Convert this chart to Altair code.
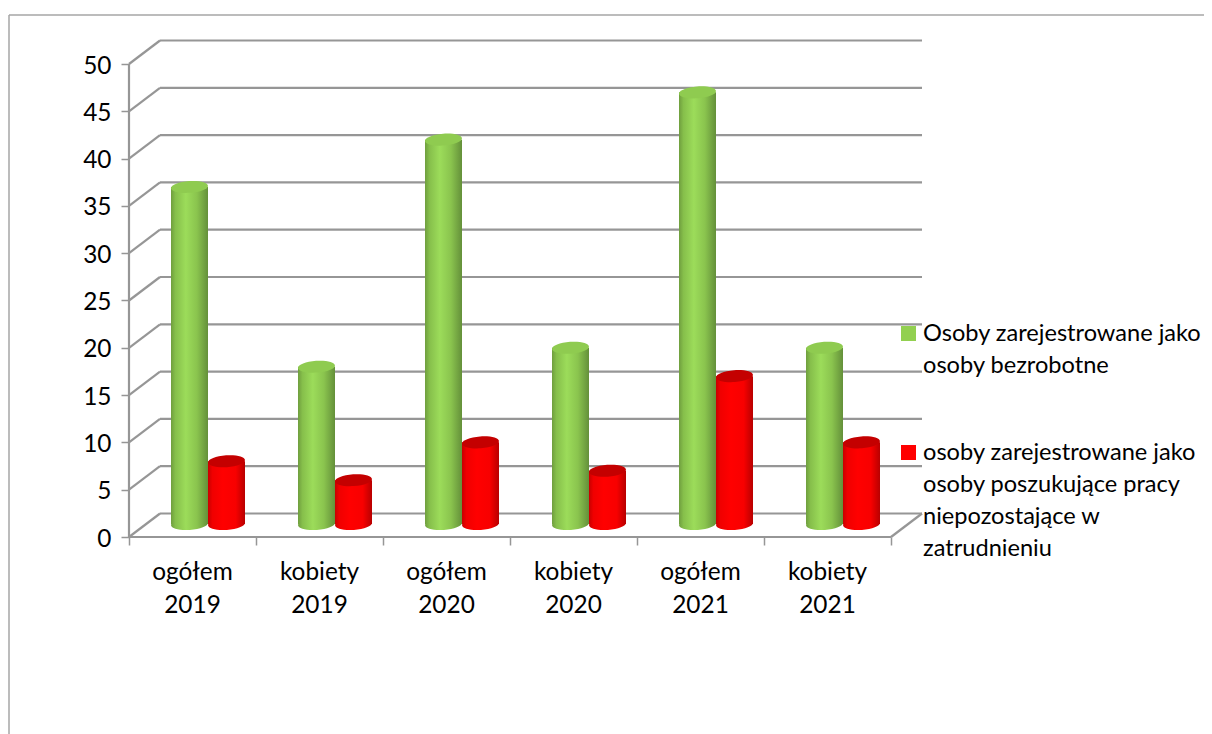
import altair as alt
import pandas as pd

# --- values ---
categories = ["ogółem\n2019", "kobiety\n2019", "ogółem\n2020", "kobiety\n2020", "ogółem\n2021", "kobiety\n2021"]
bezrobotne = [36, 17, 41, 19, 46, 19]
poszukujace = [7, 5, 9, 6, 16, 9]
grid_values = list(range(0, 51, 5))
legend_green = "Osoby zarejestrowane jako\nosoby bezrobotne"
legend_red = "osoby zarejestrowane jako\nosoby poszukujące pracy\nniepozostające w\nzatrudnieniu"

W, H = 1196, 726
PX_X, PX_Y = 127.0, 9.46      # pixels per category / per unit
X0, Y0 = 121.0, 529.0         # chart pixel of the origin
DX, DY = 31 / PX_X, 23.5 / PX_Y # depth of the 3D box in data units
FONT = "Lato"
FS = 24.4
FS_LEGEND = 23.6
GRID = "#969696"

xs = alt.Scale(domain=[-X0 / PX_X, (W - X0) / PX_X], range=[0, W], nice=False, zero=False)
ys = alt.Scale(domain=[-(H - Y0) / PX_Y, Y0 / PX_Y], range=[H, 0], nice=False, zero=False)

AX = alt.Axis(values=list(range(7)), labels=False, domain=False, grid=False, title=None,
              ticks=True, tickSize=8, tickColor=GRID, tickWidth=1.5, offset=Y0 - H, orient="bottom")
AY = alt.Axis(values=grid_values, domain=False, grid=False, title=None, ticks=True, tickSize=8,
              tickColor=GRID, tickWidth=1.5, labelFont=FONT, labelFontSize=FS, labelColor="#000000",
              labelPadding=10, labelOffset=2, offset=-X0, orient="left")


def X(f):
    return alt.X(f, type="quantitative", scale=xs, axis=AX)


def Y(f):
    return alt.Y(f, type="quantitative", scale=ys, axis=AY)


def grad(stops):
    return alt.Gradient(
        gradient="linear", x1=0, x2=1, y1=0, y2=0,
        stops=[alt.GradientStop(offset=o, color=c) for o, c in stops],
    )


GREEN = grad([(0, "#6f9e3e"), (0.12, "#86bf4b"), (0.4, "#9cdc5a"), (0.7, "#8ac44e"), (1, "#64903a")])
RED = grad([(0, "#c80000"), (0.12, "#f00000"), (0.4, "#ff0000"), (0.75, "#f80000"), (1, "#b80000")])
ELLIPSE = "M-1,0 A1,0.32 0 1 1 1,0 A1,0.32 0 1 1 -1,0 Z"

# --- frame ---
one = pd.DataFrame({"a": [0]})
frame = alt.layer(
    alt.Chart(one).mark_rule(color="#a6a6a6", strokeWidth=1.5).encode(
        x=alt.value(1), x2=alt.value(W), y=alt.value(7)),
    alt.Chart(one).mark_rule(color="#a6a6a6", strokeWidth=1.5).encode(
        x=alt.value(1), y=alt.value(7), y2=alt.value(H)),
)

# --- walls ---
side = alt.Chart(pd.DataFrame({"v": grid_values})).mark_rule(color=GRID, strokeWidth=2.2).transform_calculate(
    xa="0", xb=f"{DX}", yb=f"datum.v+{DY}"
).encode(x=X("xa"), x2="xb:Q", y=Y("v"), y2="yb:Q")

back = alt.Chart(pd.DataFrame({"v": grid_values})).mark_rule(color=GRID, strokeWidth=2.2).transform_calculate(
    yb=f"datum.v+{DY}", xa=f"{DX}", xb=f"{6 + DX}"
).encode(x=X("xa"), x2="xb:Q", y=Y("yb"))

front = pd.DataFrame({"xa": [0.0, 0.0, 6.0], "xb": [6.0, 0.0, 6 + DX], "ya": [0.0, 0.0, 0.0], "yb": [0.0, 50.0, DY]})
floor = alt.Chart(front).mark_rule(color=GRID, strokeWidth=2.2).encode(
    x=X("xa"), x2="xb:Q", y=Y("ya"), y2="yb:Q")

# --- cylinders ---
rows = []
for i, (g, r) in enumerate(zip(bezrobotne, poszukujace)):
    rows.append(dict(series="g", i=i, value=g, x0=i + 42 / PX_X, x1=i + 79 / PX_X))
    rows.append(dict(series="r", i=i, value=r, x0=i + 79 / PX_X, x1=i + 116 / PX_X))
cyl = pd.DataFrame(rows)
cyl["xc"] = (cyl.x0 + cyl.x1) / 2
cyl["base"] = 13 / PX_Y
cyl["top"] = cyl["value"] + 9.5 / PX_Y


def cylinder(series, body, cap):
    d = cyl[cyl.series == series]
    bottom = alt.Chart(d).mark_point(shape=ELLIPSE, filled=True, size=1369, opacity=1, color=body, angle=356).encode(
        x=X("xc"), y=Y("base"))
    body_ = alt.Chart(d).mark_bar(color=body).encode(x=X("x0"), x2="x1:Q", y=Y("base"), y2="top:Q")
    top = alt.Chart(d).mark_point(shape=ELLIPSE, filled=True, size=1369, opacity=1, color=cap, angle=356).encode(
        x=X("xc"), y=Y("top"))
    return [bottom, body_, top]


bars = cylinder("g", GREEN, "#8fcb50") + cylinder("r", RED, "#c40000")

# --- category labels (y is the first line) ---
lab = pd.DataFrame({"t": categories, "x": [i + 0.5 for i in range(6)], "y": [-(573 - 537) / PX_Y] * 6})
cat_text = alt.Chart(lab).mark_text(font=FONT, fontSize=FS, lineBreak="\n", lineHeight=33, color="#000000",
                                    align="center", baseline="middle").encode(
    x=X("x"), y=Y("y"), text="t:N")

# --- legend ---
leg = pd.DataFrame({"t": [legend_green, legend_red],
                    "sx": [(908.5 - 129) / PX_X] * 2,
                    "sy": [(537 - 333.5) / PX_Y, (537 - 452.5) / PX_Y],
                    "tx": [(923 - 129) / PX_X] * 2,
                    "c": ["#92d050", "#ff0000"]})
leg_sym = alt.Chart(leg).mark_square(size=225, opacity=1, filled=True).encode(
    x=X("sx"), y=Y("sy"), color=alt.Color("c:N", scale=None))
leg_text = alt.Chart(leg).mark_text(font=FONT, fontSize=FS_LEGEND, lineBreak="\n", lineHeight=32, color="#000000",
                                    align="left", baseline="middle").encode(
    x=X("tx"), y=Y("sy"), text="t:N")

chart = alt.layer(frame, side, back, floor, *bars, cat_text, leg_sym, leg_text).properties(
    width=W, height=H, padding=0,
    autosize=alt.AutoSizeParams(type="none"),
).configure_view(stroke=None)

chart.save("out.html", embed_options={"renderer": "svg", "actions": False})
